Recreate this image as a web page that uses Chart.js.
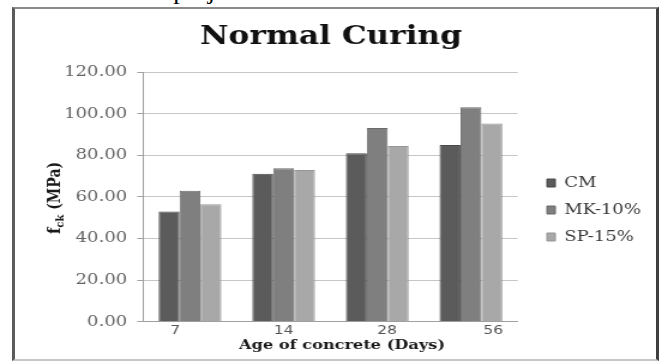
<!DOCTYPE html>
<html>
<head>
<meta charset="utf-8">
<script src="https://cdn.jsdelivr.net/npm/chart.js@4/dist/chart.umd.min.js"></script>
<style>
  html, body { margin: 0; padding: 0; background: #fff; width: 662px; height: 361px; overflow: hidden; }
  #lead { position: absolute; left: 2px; top: -22px; font: 26px/26px "Liberation Serif", serif; color: #000; white-space: nowrap; }
  #frame { position: absolute; left: 12px; top: 7px; width: 641px; height: 350px;
           border-left: 3px solid #5b5b5b; border-top: 2px solid #8a8a8a;
           border-right: 3px solid #3f3f3f; border-bottom: 2px solid #c8c8c8; }
  /* the chart is laid out narrow and widened, like the wide serif lettering of the figure */
  #wrap { position: absolute; left: 0; top: 0; width: 552px; height: 361px;
          transform: scaleX(1.1993); transform-origin: 0 0; }
</style>
</head>
<body>
<div id="lead">discussed in the project work.</div>
<div id="frame"></div>
<div id="wrap"><canvas id="chart"></canvas></div>
<script>
// Age of concrete (days)
const categories = ['7', '14', '28', '56'];
// Compressive strength fck (MPa) per mix
const cmValues = [53.0, 71.1, 81.0, 85.0];
const mkValues = [63.0, 73.8, 93.2, 103.2];
const sfValues = [56.5, 73.0, 84.5, 95.3];
const seriesNames = ['CM', 'MK-10%', 'SP-15%'];
const yTickValues = [0, 20, 40, 60, 80, 100, 120];

const fills = ['#5b5b5b', '#7f7f7f', '#a8a8a8'];
const edges = ['#4a4a4a', '#6b6b6b', '#959595'];
// spaces around the day labels (positive = trailing, negative = leading)
const tickNudge = [6, 0, -4, -9];

const seriesValues = [cmValues, mkValues, sfValues];

const axisTitles = {
  id: 'axisTitles',
  afterDraw(chart) {
    const { ctx, chartArea: a } = chart;
    ctx.save();
    ctx.setTransform(1, 0, 0, 1, 0, 0);
    ctx.fillStyle = '#1a1a1a';
    ctx.font = 'bold 13.5px "DejaVu Serif"';
    ctx.textAlign = 'center';
    ctx.textBaseline = 'middle';
    ctx.fillText('Age of concrete (Days)', (a.left + a.right) / 2 + 9.6, a.bottom + 23.5);

    // vertical title: f with subscript ck, then the unit
    const cx = 45, cy = (a.top + a.bottom) / 2 + 1;
    ctx.setTransform(0, -1, 1, 0, cx, cy);
    ctx.textAlign = 'left';
    ctx.textBaseline = 'alphabetic';
    const parts = [
      ['f', 'bold 15px "DejaVu Serif"', 0],
      ['ck', 'bold 10px "DejaVu Serif"', 3],
      [' (MPa)', 'bold 14px "DejaVu Serif"', 0]
    ];
    let total = 0;
    parts.forEach(p => { ctx.font = p[1]; total += ctx.measureText(p[0]).width; });
    let x = -total / 2;
    parts.forEach(p => {
      ctx.font = p[1];
      ctx.fillText(p[0], x, 5 + p[2]);
      x += ctx.measureText(p[0]).width;
    });
    ctx.restore();
  }
};

const legendPlacement = {
  id: 'legendPlacement',
  afterInit(chart) {
    const lg = chart.legend;
    const baseFit = lg.fit;
    lg.fit = function () {
      baseFit.call(this);
      this.width = 120.3;
    };
  },
  afterLayout(chart) {
    const lg = chart.legend, a = chart.chartArea;
    const w = lg.width, h = lg.height;
    lg.left = a.right + 12.3;
    lg.right = lg.left + w;
    lg.top = 163.5;
    lg.bottom = lg.top + h;
  }
};

new Chart(document.getElementById('chart'), {
  type: 'bar',
  data: {
    labels: categories,
    datasets: seriesNames.map((name, i) => ({
      label: name,
      data: seriesValues[i],
      backgroundColor: fills[i],
      borderColor: edges[i],
      borderWidth: 1,
      categoryPercentage: 0.67,
      barPercentage: 1.0
    }))
  },
  options: {
    responsive: true,
    maintainAspectRatio: false,
    animation: false,
    devicePixelRatio: 1,
    layout: { padding: 0 },
    plugins: {
      title: {
        display: true,
        text: 'Normal Curing',
        color: '#111',
        font: { family: 'DejaVu Serif', size: 26, weight: 'bold' },
        padding: { top: 22, bottom: 19 }
      },
      legend: {
        position: 'right',
        align: 'start',
        fullSize: false,
        labels: {
          boxWidth: 7,
          boxHeight: 8,
          padding: 12,
          color: '#3a3a3a',
          font: { family: 'DejaVu Serif', size: 15 }
        }
      },
      tooltip: { enabled: false }
    },
    scales: {
      x: {
        grid: { display: false, drawTicks: false },
        border: { color: '#a0a0a0' },
        ticks: {
          padding: 1,
          color: '#555',
          maxRotation: 0,
          autoSkip: false,
          font: { family: 'DejaVu Sans', size: 13 },
          callback: (v, i) => {
            const t = categories[i], n = tickNudge[i];
            return n > 0 ? t + ' '.repeat(n) : ' '.repeat(-n) + t;
          }
        },
        afterFit: s => { s.height = 39.3; }
      },
      y: {
        min: 0,
        max: 120,
        afterBuildTicks: s => { s.ticks = yTickValues.map(v => ({ value: v })); },
        afterFit: s => { s.width = 119.4; },
        grid: { color: '#c6c6c6', tickColor: '#a0a0a0', tickLength: 5 },
        border: { color: '#a0a0a0' },
        ticks: {
          padding: 8.4,
          color: '#636363',
          font: { family: 'DejaVu Serif', size: 15 },
          callback: v => Number(v).toFixed(2)
        }
      }
    }
  },
  plugins: [axisTitles, legendPlacement]
});
</script>
</body>
</html>
